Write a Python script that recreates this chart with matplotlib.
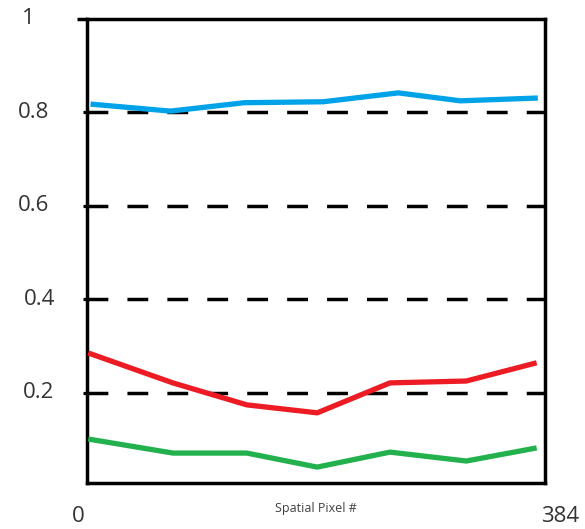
import matplotlib
matplotlib.use("Agg")
from matplotlib import pyplot as plt
from matplotlib import transforms

# data
pix_blue = [3, 70, 132, 198, 261, 313, 378]
blue = [0.817, 0.802, 0.820, 0.822, 0.841, 0.824, 0.830]
pix = [1, 72, 134, 193, 254, 318, 377]
red = [0.285, 0.221, 0.174, 0.157, 0.221, 0.225, 0.264]
green = [0.101, 0.071, 0.071, 0.041, 0.073, 0.054, 0.082]

grid_vals = [0.2, 0.4, 0.6, 0.8]
ytick_vals = [0.2, 0.4, 0.6, 0.8, 1.0]
ytick_labels = ["0.2", "0.4", "0.6", "0.8", "1"]
xtick_vals = [0, 384]
xtick_labels = ["0", "384"]

plt.rcParams['font.family'] = ['Open Sans', 'DejaVu Sans']

fig = plt.figure(figsize=(5.85, 5.29), dpi=100)
ax = fig.add_axes([87/585, (529-483)/529, 458/585, 464.5/529])
ax.set_xlim(0, 384)
ax.set_ylim(0.007, 1.0)

for g in grid_vals:
    ax.axhline(g, color='black', lw=2.5, dashes=(6, 5.5), zorder=1)

ax.plot(pix_blue, blue, color='#00A2E8', lw=3.8, zorder=3, solid_capstyle='butt')
ax.plot(pix, red, color='#ED1C24', lw=3.8, zorder=3, solid_capstyle='butt')
ax.plot(pix, green, color='#22B14C', lw=3.8, zorder=3, solid_capstyle='butt')

for s in ax.spines.values():
    s.set_linewidth(2.5)
    s.set_color('black')

# y ticks: short marks, labels placed far left of the axis
ax.set_yticks(grid_vals)
ax.set_yticklabels([])
ax.tick_params(axis='y', length=3, width=2.3, direction='out', color='black')
ax.set_xticks([])
ax.plot([-0.022, 0], [1, 1], transform=ax.transAxes, color='black',
        lw=2.5, clip_on=False, solid_capstyle='butt')

ytr = transforms.blended_transform_factory(fig.transFigure, ax.transData)
label_left = [23, 24, 18, 18, 22]
for v, lab, xl in zip(ytick_vals, ytick_labels, label_left):
    ax.text(xl/585, v, lab, transform=ytr, ha='left', va='center',
            fontsize=16, color='#333333')

for v, lab, dx in zip(xtick_vals, xtick_labels, [-9, 15]):
    ax.annotate(lab, xy=(v, 0), xycoords=('data', 'axes fraction'),
                xytext=(dx, -33), textcoords='offset pixels',
                ha='center', va='center', fontsize=16, color='#333333')

ax.set_xlabel('Spatial Pixel #', fontsize=9, color='#404040', labelpad=14)

fig.savefig('out.png', dpi=100)
